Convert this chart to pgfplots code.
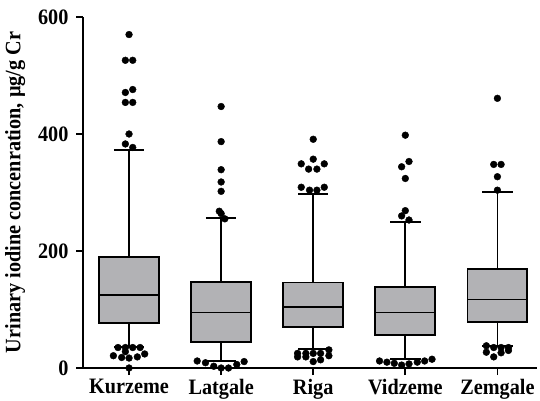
\documentclass[border=0pt]{standalone}
\usepackage{pgfplots}
\pgfplotsset{compat=1.18}
\usepackage{fontspec}
\setmainfont{Liberation Serif}[FakeStretch=0.92]
\definecolor{boxgray}{RGB}{178,178,181}
\begin{document}
\fontsize{22}{26}\selectfont\bfseries
\begin{tikzpicture}
\path[use as bounding box] (0,0) rectangle (540pt,400pt);
\begin{axis}[
  at={(83pt,32pt)}, anchor=south west,
  scale only axis,
  width=454pt, height=351pt,
  xmin=-0.5, xmax=4.43, ymin=0, ymax=600,
  axis x line*=bottom, axis y line*=left,
  axis line style={line width=1.8pt, -},
  xtick={0,1,2,3,4},
  xticklabels={Kurzeme,Latgale,Riga,Vidzeme,Zemgale},
  ytick={0,200,400,600},
  tick align=outside,
  major tick length=7pt,
  tick style={line width=1.8pt, black},
  /pgf/number format/assume math mode=true,
  ticklabel style={font=\fontsize{22}{26}\selectfont\bfseries},
  xticklabel style={yshift=3pt},
  ylabel={Urinary iodine concenration, µg/g Cr},
  ylabel style={font=\fontsize{22}{26}\selectfont\bfseries, yshift=-2pt},
  clip=false,
  unbounded coords=jump,
]
% boxes (lower quartile, upper quartile)
\addplot[draw=black, fill=boxgray, line width=1.8pt] coordinates {(-0.325,77) (0.325,77) (0.325,190) (-0.325,190)} -- cycle;
\addplot[draw=black, fill=boxgray, line width=1.8pt] coordinates {(0.675,45) (1.325,45) (1.325,147) (0.675,147)} -- cycle;
\addplot[draw=black, fill=boxgray, line width=1.8pt] coordinates {(1.675,70) (2.325,70) (2.325,146) (1.675,146)} -- cycle;
\addplot[draw=black, fill=boxgray, line width=1.8pt] coordinates {(2.675,56) (3.325,56) (3.325,138) (2.675,138)} -- cycle;
\addplot[draw=black, fill=boxgray, line width=1.8pt] coordinates {(3.675,78) (4.325,78) (4.325,169) (3.675,169)} -- cycle;
% medians, whiskers and caps
\addplot[black, line width=1.8pt] coordinates {(-0.325,125) (0.325,125) (nan,nan) (0,190) (0,372) (nan,nan) (-0.165,372) (0.165,372) (nan,nan) (0,77) (0,36) (nan,nan) (-0.165,36) (0.165,36)};
\addplot[black, line width=1.8pt] coordinates {(0.675,95) (1.325,95) (nan,nan) (1,147) (1,256) (nan,nan) (0.835,256) (1.165,256) (nan,nan) (1,45) (1,12) (nan,nan) (0.835,12) (1.165,12)};
\addplot[black, line width=1.8pt] coordinates {(1.675,104) (2.325,104) (nan,nan) (2,146) (2,298) (nan,nan) (1.835,298) (2.165,298) (nan,nan) (2,70) (2,33) (nan,nan) (1.835,33) (2.165,33)};
\addplot[black, line width=1.8pt] coordinates {(2.675,95) (3.325,95) (nan,nan) (3,138) (3,249) (nan,nan) (2.835,249) (3.165,249) (nan,nan) (3,56) (3,15) (nan,nan) (2.835,15) (3.165,15)};
\addplot[black, line width=1.8pt] coordinates {(3.675,117) (4.325,117) (nan,nan) (4,169) (4,301) (nan,nan) (3.835,301) (4.165,301) (nan,nan) (4,78) (4,38) (nan,nan) (3.835,38) (4.165,38)};
% outliers
\addplot[only marks, mark=*, mark size=3.4pt, black] coordinates {
 (0,570) (-0.04,526) (0.04,526) (-0.04,471) (0.04,476) (-0.04,454) (0.04,454)
 (0,400) (-0.04,383) (0.04,377)
 (-0.12,35) (-0.04,35) (0.04,35) (0.12,35) (-0.04,28)
 (-0.17,21) (-0.08,18) (0,17) (0.09,19) (0.17,24) (0,0)
 (1,447) (1,387) (1,339) (1,318) (1,302) (0.98,268) (1,264) (1.04,255)
 (0.74,12) (0.83,9) (0.92,3) (1,0) (1.08,0) (1.17,6) (1.25,11)
 (2,391) (2,357) (1.87,349) (2.12,349) (1.95,340) (2.04,340)
 (1.87,309) (2.12,309) (1.96,304) (2.04,304)
 (1.83,25) (1.92,25) (2,25) (2.08,25) (2.17,31)
 (1.83,19) (1.92,19) (2,11) (2.08,14) (2.17,21)
 (3,398) (3.04,353) (2.96,344) (3,324) (3,269) (2.96,260) (3.04,253)
 (2.72,12) (2.8,10) (2.88,8) (2.96,5) (3.04,7) (3.13,10) (3.21,12) (3.29,15)
 (4,461) (3.96,348) (4.04,348) (4,327) (4,304)
 (3.88,38) (3.96,35) (4.04,35) (4.12,35) (3.88,27) (4.04,26) (4.12,30) (3.96,19)
};
\end{axis}
\end{tikzpicture}
\end{document}
